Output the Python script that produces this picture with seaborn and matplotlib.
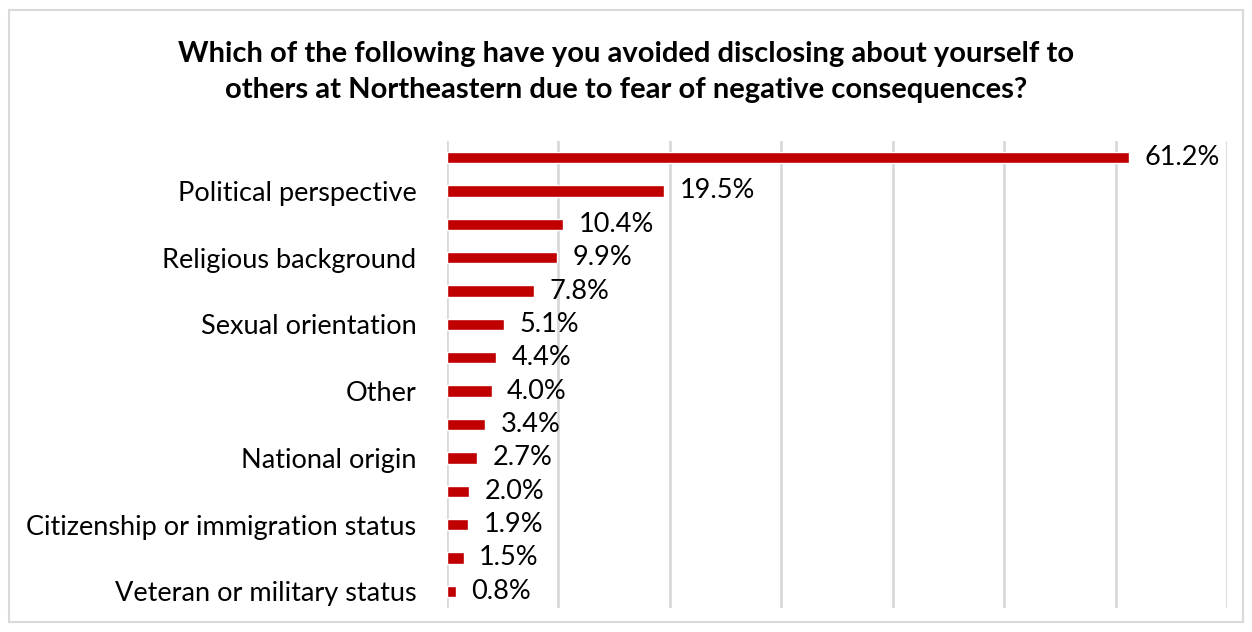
import matplotlib.pyplot as plt
import matplotlib.patches as mpatches
import pandas as pd
import seaborn as sns

# data, top to bottom (Excel only printed every other category label)
labels = ['', 'Political perspective', '', 'Religious background', '',
          'Sexual orientation', '', 'Other', '', 'National origin', '',
          'Citizenship or immigration status', '', 'Veteran or military status']
values = [61.2, 19.5, 10.4, 9.9, 7.8, 5.1, 4.4, 4.0, 3.4, 2.7, 2.0, 1.9, 1.5, 0.8]
title = ('Which of the following have you avoided disclosing about yourself to\n'
         'others at Northeastern due to fear of negative consequences?')

df = pd.DataFrame({'key': [f'r{i}' for i in range(len(values))],
                   'label': labels, 'pct': values})

sns.set_style('white')
plt.rcParams['font.family'] = ['Lato', 'DejaVu Sans']
plt.rcParams['text.color'] = 'black'
plt.rcParams['ytick.color'] = 'black'

fig = plt.figure(figsize=(12.52, 6.32), dpi=100)
ax = fig.add_axes([0.357, 0.038, 0.623, 0.739])

sns.barplot(data=df, x='pct', y='key', orient='h', color='#C00000',
            width=0.34, saturation=1, ax=ax)

ax.set_xlim(0, 70)
ax.set_xticks(range(0, 71, 10))
ax.xaxis.grid(True, color='#D9D9D9', linewidth=2)
ax.set_axisbelow(True)
ax.tick_params(axis='x', length=0, labelbottom=False)
ax.tick_params(axis='y', length=0, pad=22, labelsize=19.5)
ax.set_yticks(range(len(labels)))
ax.set_yticklabels(df['label'])
ax.set_xlabel('')
ax.set_ylabel('')
for s in ax.spines.values():
    s.set_visible(False)

for i, v in enumerate(df['pct']):
    ax.text(v + 1.4, i, f'{v:.1f}%', va='center', ha='left', fontsize=19.5)

fig.suptitle(title, x=0.5, y=0.935, fontsize=21, fontweight='bold',
             linespacing=1.45, va='top')

fig.patches.append(mpatches.Rectangle((0.007, 0.016), 0.986, 0.968,
                                      transform=fig.transFigure, fill=False,
                                      edgecolor='#D9D9D9', linewidth=1.5))

fig.savefig('out.png', dpi=100)
